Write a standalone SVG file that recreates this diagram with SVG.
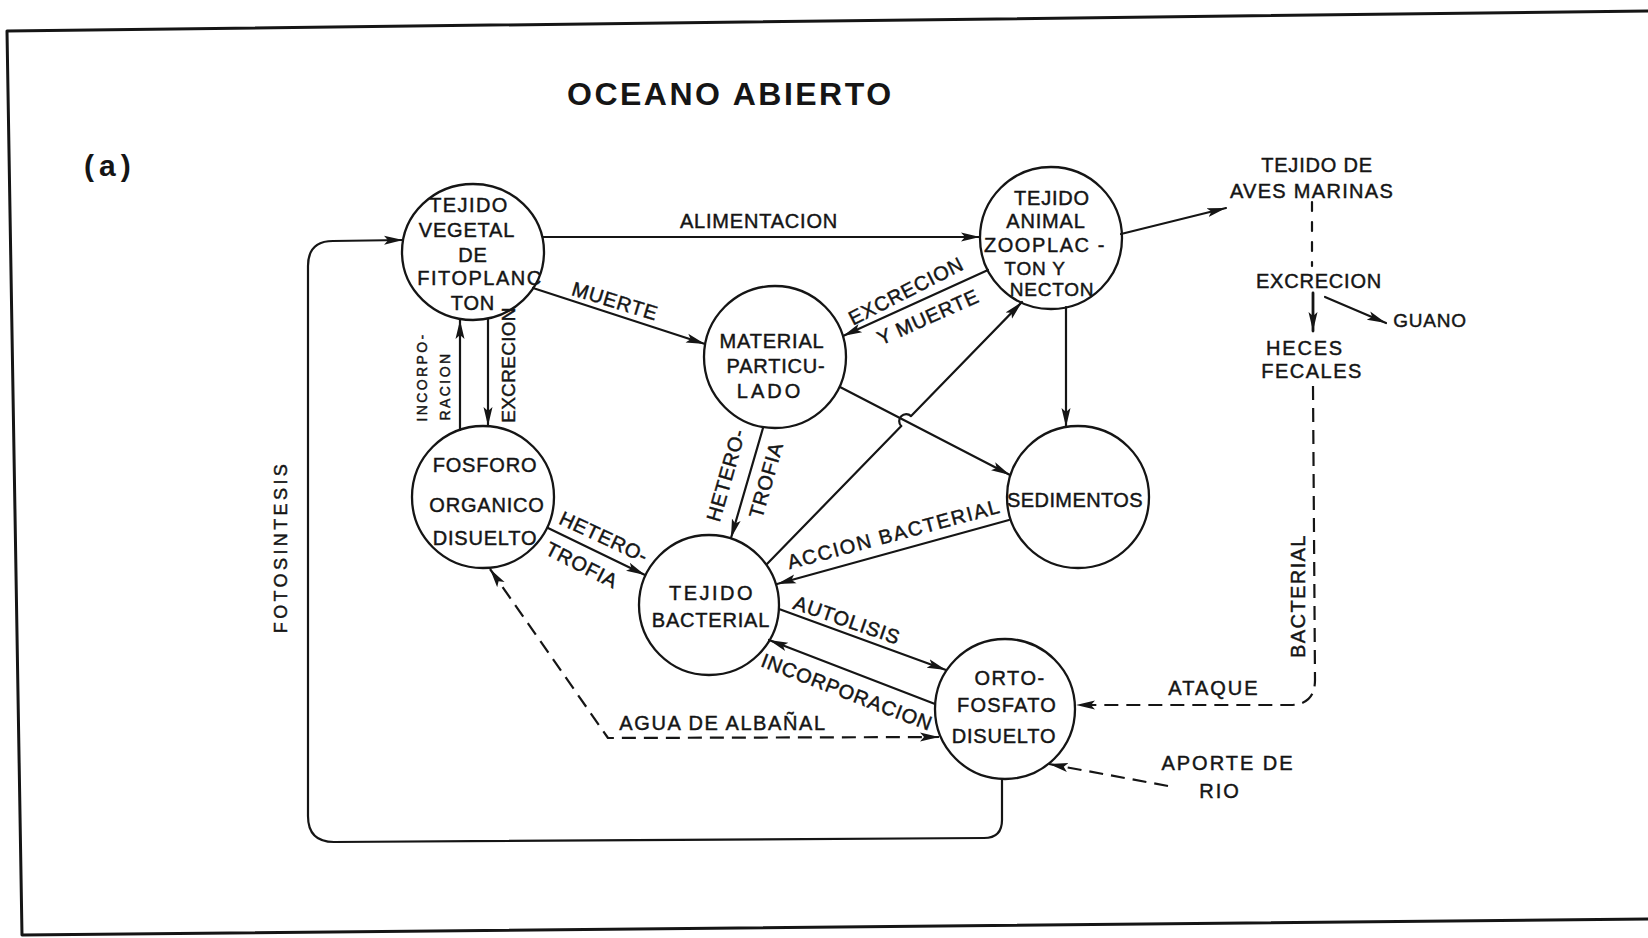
<svg xmlns="http://www.w3.org/2000/svg" width="1648" height="938" viewBox="0 0 1648 938">
<style>
.ln{fill:none;stroke:#151515;stroke-width:2.2;stroke-linecap:round;stroke-linejoin:round}
.ds{stroke-dasharray:14 8;stroke-linecap:butt}
.nd{fill:none;stroke:#151515;stroke-width:2.3}
.t{font-family:"Liberation Sans",Arial,sans-serif;font-size:20px;fill:#151515;stroke:#151515;stroke-width:0.45;text-anchor:middle;letter-spacing:0.8px}
.s{font-size:14px;letter-spacing:2.4px}
</style>
<defs>
<marker id="arr" markerUnits="userSpaceOnUse" markerWidth="20" markerHeight="12" viewBox="0 0 20 12" refX="19" refY="6" orient="auto-start-reverse">
<path d="M0,1.5 L19,6 L0,10.5 L4,6 Z" fill="#151515"/>
</marker>
</defs>
<rect width="1648" height="938" fill="#fff"/>
<g id="frame" class="ln" style="stroke-width:3">
<path d="M1648,11 L7,31 L22,935 L1648,919"/>
</g>
<g id="title">
<text class="t" x="567" y="105" style="text-anchor:start;font-size:32px;font-weight:bold;stroke-width:0;letter-spacing:2.5px">OCEANO  ABIERTO</text>
<text class="t" x="84" y="176" style="text-anchor:start;font-size:30px;font-weight:bold;stroke-width:0;letter-spacing:5px">(a)</text>
</g>
<g id="connectors">
<!-- alimentacion -->
<path class="ln" d="M543,237 L980,237" marker-end="url(#arr)"/>
<text class="t" x="759" y="228">ALIMENTACION</text>
<!-- muerte -->
<path class="ln" d="M533,288 L705,344" marker-end="url(#arr)"/>
<text class="t" transform="translate(615,301) rotate(17)" y="7">MUERTE</text>
<!-- excrecion y muerte -->
<path class="ln" d="M988,270 L843,336" marker-end="url(#arr)"/>
<text class="t" transform="translate(906,291) rotate(-27)" y="7">EXCRECION</text>
<text class="t" transform="translate(928,317) rotate(-24)" y="7">Y MUERTE</text>
<!-- zoo to aves -->
<path class="ln" d="M1121,234 L1226,208" marker-end="url(#arr)"/>
<!-- zoo to sedimentos -->
<path class="ln" d="M1066,307 L1066,427" marker-end="url(#arr)"/>
<!-- material to sedimentos -->
<path class="ln" d="M840,387 L1010,475" marker-end="url(#arr)"/>
<!-- bacterial to zoo with hop -->
<path class="ln" d="M767,564 L901.3,426.1 A7,7 0 0 1 911.1,416.1 L1022,302" marker-end="url(#arr)"/>
<!-- material to bacterial -->
<path class="ln" d="M763,428 L731,538" marker-end="url(#arr)"/>
<text class="t" transform="translate(726,475) rotate(-74)" y="7">HETERO-</text>
<text class="t" transform="translate(766,480) rotate(-74)" y="7">TROFIA</text>
<!-- fosforo to bacterial -->
<path class="ln" d="M548,528 L645,575" marker-end="url(#arr)"/>
<text class="t" transform="translate(604,537) rotate(25)" y="7">HETERO-</text>
<text class="t" transform="translate(582,565) rotate(27)" y="7">TROFIA</text>
<!-- incorporacion fosforo to fito -->
<path class="ln" d="M460,430 L460,320" marker-end="url(#arr)"/>
<text class="t s" transform="translate(422,377) rotate(-90)" y="5">INCORPO-</text>
<text class="t s" transform="translate(445,386) rotate(-90)" y="5">RACION</text>
<!-- excrecion fito to fosforo -->
<path class="ln" d="M488,319 L488,426" marker-end="url(#arr)"/>
<text class="t" transform="translate(508,365) rotate(-90)" y="7" style="font-size:19px;letter-spacing:0.3px">EXCRECION</text>
<!-- autolisis -->
<path class="ln" d="M779,609 L946,670" marker-end="url(#arr)"/>
<text class="t" transform="translate(847,620) rotate(19)" y="7">AUTOLISIS</text>
<!-- incorporacion orto to bacterial -->
<path class="ln" d="M935,704 L769,640" marker-end="url(#arr)"/>
<text class="t" transform="translate(847,692) rotate(21)" y="7">INCORPORACION</text>
<!-- accion bacterial -->
<path class="ln" d="M1009,520 L777,584" marker-end="url(#arr)"/>
<text class="t" transform="translate(894,534) rotate(-15)" y="7" style="letter-spacing:1.6px">ACCION BACTERIAL</text>
<!-- agua de albanal -->
<path class="ln ds" d="M490,569 L608,738 L939,737" marker-start="url(#arr)" marker-end="url(#arr)"/>
<text class="t" x="723" y="730" style="letter-spacing:1.6px">AGUA DE ALBAÑAL</text>
<!-- fotosintesis loop -->
<path class="ln" d="M1002,779 L1002,820 Q1002,838 984,838 L334,842 Q308,842 308,816 L308,266 Q308,241 333,241 L403,240" marker-end="url(#arr)"/>
<text class="t" transform="translate(281,547) rotate(-90)" y="6" style="font-size:18px;letter-spacing:3.4px">FOTOSINTESIS</text>
<!-- aves to excrecion -->
<path class="ln" d="M1312,202 L1312,266" style="stroke-dasharray:9 11"/>
<!-- excrecion to heces -->
<path class="ln" d="M1313,293 L1313,331" style="stroke-width:2.8" marker-end="url(#arr)"/>
<!-- excrecion to guano -->
<path class="ln" d="M1325,297 L1386,323" marker-end="url(#arr)"/>
<!-- ataque bacterial -->
<path class="ln ds" d="M1313,386 L1315,680 Q1315,705 1290,705 L1076,705" marker-end="url(#arr)"/>
<text class="t" transform="translate(1298,596) rotate(-90)" y="7" style="letter-spacing:1.4px">BACTERIAL</text>
<text class="t" x="1214" y="695" style="letter-spacing:2px">ATAQUE</text>
<!-- aporte de rio -->
<path class="ln ds" d="M1168,786 L1049,764" marker-end="url(#arr)"/>
</g>
<g id="node-fitoplancton">
<ellipse class="nd" cx="473" cy="252" rx="71" ry="68"/>
<text class="t" x="469" y="212" style="letter-spacing:1.4px">TEJIDO</text>
<text class="t" x="467" y="237">VEGETAL</text>
<text class="t" x="473" y="262">DE</text>
<text class="t" x="480" y="285" style="letter-spacing:1.5px">FITOPLANC</text>
<text class="t" x="473" y="310">TON</text>
</g>
<g id="node-zooplancton">
<circle class="nd" cx="1051" cy="238" r="71"/>
<text class="t" x="1052" y="205">TEJIDO</text>
<text class="t" x="1046" y="228">ANIMAL</text>
<text class="t" x="1045" y="252" style="letter-spacing:1.6px">ZOOPLAC -</text>
<text class="t" x="1035" y="275" style="font-size:19px">TON  Y</text>
<text class="t" x="1052" y="296" style="font-size:19px">NECTON</text>
</g>
<g id="node-material">
<circle class="nd" cx="775" cy="357" r="71"/>
<text class="t" x="772" y="348">MATERIAL</text>
<text class="t" x="776" y="373">PARTICU-</text>
<text class="t" x="770" y="398" style="letter-spacing:3px">LADO</text>
</g>
<g id="node-fosforo">
<circle class="nd" cx="483" cy="497" r="71"/>
<text class="t" x="485" y="472">FOSFORO</text>
<text class="t" x="487" y="512">ORGANICO</text>
<text class="t" x="485" y="545">DISUELTO</text>
</g>
<g id="node-sedimentos">
<circle class="nd" cx="1078" cy="497" r="71"/>
<text class="t" x="1075" y="507" style="letter-spacing:0.4px">SEDIMENTOS</text>
</g>
<g id="node-bacterial">
<circle class="nd" cx="709" cy="605" r="70"/>
<text class="t" x="712" y="600" style="letter-spacing:2.5px">TEJIDO</text>
<text class="t" x="711" y="627">BACTERIAL</text>
</g>
<g id="node-ortofosfato">
<circle class="nd" cx="1005" cy="709" r="70"/>
<text class="t" x="1010" y="685" style="letter-spacing:1.5px">ORTO-</text>
<text class="t" x="1007" y="712" style="letter-spacing:1.2px">FOSFATO</text>
<text class="t" x="1004" y="743">DISUELTO</text>
</g>
<g id="node-aves">
<text class="t" x="1317" y="172">TEJIDO DE</text>
<text class="t" x="1312" y="198" style="letter-spacing:1.3px">AVES  MARINAS</text>
</g>
<g id="node-excrecion">
<text class="t" x="1319" y="288">EXCRECION</text>
</g>
<g id="node-guano">
<text class="t" x="1430" y="327" style="font-size:19px">GUANO</text>
</g>
<g id="node-heces">
<text class="t" x="1305" y="355" style="letter-spacing:1.8px">HECES</text>
<text class="t" x="1312" y="378" style="letter-spacing:1.5px">FECALES</text>
</g>
<g id="node-aporte">
<text class="t" x="1228" y="770" style="letter-spacing:2px">APORTE DE</text>
<text class="t" x="1220" y="798" style="letter-spacing:2px">RIO</text>
</g>
</svg>
